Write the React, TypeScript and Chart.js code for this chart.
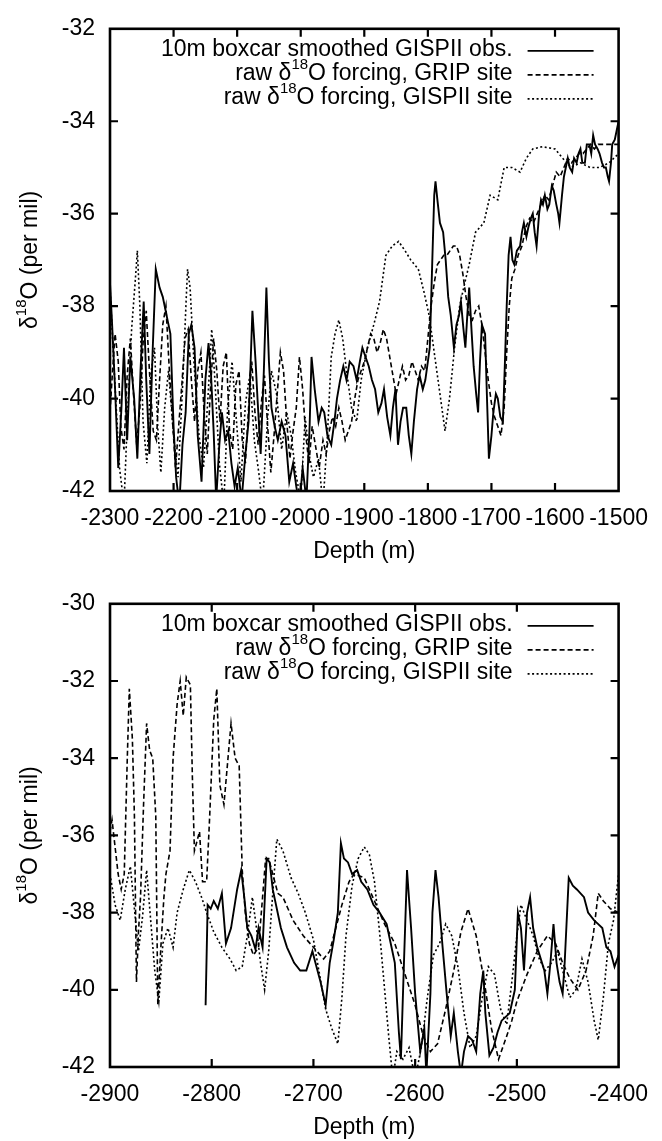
import React, { useEffect, useRef } from 'react';
import { Chart, registerables } from 'chart.js';
Chart.register(...registerables);

const FONT = "'Liberation Sans', Arial, Helvetica, sans-serif";

// ---------- Top panel (depth -2300 .. -1500) ----------
const topXTicks = [-2300, -2200, -2100, -2000, -1900, -1800, -1700, -1600, -1500];
const topYTicks = [-42, -40, -38, -36, -34, -32];

const topObs: [number, number][] = [
  [-2300,-37.5],[-2297,-38.3],[-2292,-39.8],[-2287,-41.5],[-2282,-40.2],[-2278,-38.9],[-2273,-40.9],[-2268,-39.1],[-2262,-40.0],[-2257,-41.3],
  [-2252,-39.4],[-2247,-37.9],[-2243,-39.6],[-2238,-41.2],[-2233,-39.0],[-2228,-37.2],[-2222,-37.6],[-2217,-37.8],[-2211,-38.2],[-2205,-38.6],
  [-2200,-40.6],[-2196,-41.7],[-2191,-42.3],[-2186,-41.0],[-2181,-40.3],[-2176,-38.6],[-2172,-38.4],[-2167,-38.9],[-2162,-40.8],[-2156,-41.8],
  [-2150,-39.6],[-2145,-38.8],[-2141,-39.5],[-2137,-40.7],[-2133,-42.2],[-2128,-41.0],[-2124,-40.3],[-2119,-40.9],[-2114,-40.7],[-2109,-41.4],
  [-2104,-41.9],[-2099,-41.5],[-2093,-42.2],[-2087,-41.2],[-2082,-40.5],[-2076,-38.1],[-2071,-39.2],[-2068,-40.0],[-2063,-41.2],[-2058,-39.4],
  [-2054,-37.6],[-2050,-39.2],[-2046,-40.2],[-2041,-40.6],[-2036,-40.9],[-2030,-40.5],[-2024,-40.8],[-2018,-41.8],[-2012,-41.4],[-2007,-41.9],
  [-2002,-42.3],[-1997,-41.5],[-1991,-42.2],[-1986,-40.6],[-1983,-39.1],[-1978,-39.8],[-1972,-40.5],[-1967,-40.2],[-1963,-40.3],[-1958,-40.8],
  [-1952,-41.0],[-1947,-40.5],[-1943,-40.0],[-1938,-39.6],[-1933,-39.3],[-1928,-39.6],[-1923,-39.2],[-1917,-39.3],[-1912,-39.6],[-1907,-39.2],
  [-1903,-38.9],[-1898,-39.1],[-1893,-39.3],[-1888,-39.6],[-1883,-39.8],[-1878,-40.3],[-1873,-40.1],[-1869,-39.8],[-1864,-40.4],[-1859,-40.8],
  [-1855,-40.2],[-1851,-39.8],[-1847,-41.0],[-1843,-40.5],[-1839,-40.2],[-1834,-40.2],[-1830,-40.8],[-1826,-41.2],[-1822,-40.5],[-1817,-39.8],
  [-1813,-39.5],[-1808,-39.8],[-1804,-39.6],[-1800,-39.2],[-1797,-38.9],[-1793,-37.0],[-1790,-35.6],[-1788,-35.3],[-1785,-35.7],[-1781,-36.2],
  [-1776,-36.4],[-1772,-37.0],[-1768,-37.8],[-1764,-38.2],[-1759,-38.9],[-1755,-38.4],[-1751,-38.2],[-1748,-37.9],[-1744,-38.5],[-1741,-38.9],
  [-1738,-38.2],[-1735,-37.6],[-1731,-38.6],[-1728,-39.3],[-1724,-39.9],[-1721,-40.3],[-1718,-39.2],[-1715,-38.4],[-1710,-38.6],[-1707,-40.0],
  [-1704,-41.3],[-1700,-40.8],[-1697,-40.3],[-1693,-39.9],[-1690,-40.0],[-1686,-40.4],[-1682,-40.5],[-1679,-39.3],[-1676,-38.0],[-1673,-36.9],
  [-1670,-36.5],[-1667,-37.0],[-1664,-37.1],[-1660,-36.8],[-1655,-36.7],[-1652,-36.4],[-1649,-36.2],[-1645,-36.5],[-1642,-36.3],[-1638,-36.1],
  [-1635,-36.0],[-1632,-36.4],[-1629,-36.7],[-1625,-36.0],[-1622,-35.7],[-1619,-35.8],[-1616,-35.6],[-1612,-35.9],[-1609,-35.8],[-1605,-35.4],
  [-1602,-35.5],[-1598,-35.8],[-1595,-36.0],[-1593,-36.2],[-1589,-35.6],[-1586,-35.2],[-1583,-35.0],[-1580,-34.8],[-1577,-35.0],[-1573,-35.1],
  [-1570,-34.8],[-1566,-34.9],[-1563,-34.7],[-1560,-34.6],[-1557,-34.9],[-1553,-34.9],[-1550,-34.5],[-1546,-34.5],[-1543,-34.7],[-1540,-34.3],
  [-1537,-34.5],[-1533,-34.6],[-1530,-34.7],[-1526,-34.9],[-1523,-35.0],[-1520,-35.0],[-1517,-35.2],[-1515,-35.3],[-1512,-34.9],[-1510,-34.5],
  [-1506,-34.4],[-1503,-34.2],[-1500,-34.0],
];

const topGrip: [number, number][] = [
  [-2300,-40.3],[-2296,-39.4],[-2292,-38.6],[-2287,-39.2],[-2283,-40.6],[-2278,-41.1],[-2273,-39.5],[-2268,-38.7],[-2263,-39.9],[-2258,-41.0],
  [-2253,-40.2],[-2248,-38.8],[-2243,-38.1],[-2238,-39.4],[-2232,-40.7],[-2227,-40.9],[-2222,-39.6],[-2217,-38.4],[-2212,-38.0],[-2207,-39.3],
  [-2202,-40.4],[-2197,-41.5],[-2192,-40.6],[-2187,-39.7],[-2182,-38.7],[-2177,-38.5],[-2172,-39.6],[-2167,-40.5],[-2162,-39.4],[-2157,-39.0],
  [-2152,-40.3],[-2147,-41.2],[-2142,-39.8],[-2137,-38.7],[-2132,-39.4],[-2127,-40.5],[-2122,-39.3],[-2117,-39.0],[-2112,-40.7],[-2107,-41.1],
  [-2102,-39.7],[-2097,-39.4],[-2092,-40.9],[-2087,-41.4],[-2082,-40.2],[-2077,-39.2],[-2072,-40.3],[-2067,-41.0],[-2062,-40.1],[-2057,-39.5],
  [-2052,-40.6],[-2047,-41.6],[-2042,-40.8],[-2037,-39.9],[-2032,-39.0],[-2027,-39.4],[-2022,-40.5],[-2017,-41.3],[-2012,-40.7],[-2007,-40.2],
  [-2002,-39.1],[-1997,-39.8],[-1992,-40.8],[-1987,-41.4],[-1982,-40.6],[-1977,-41.0],[-1971,-41.5],[-1965,-40.9],[-1960,-41.2],[-1955,-40.7],
  [-1950,-40.4],[-1945,-40.6],[-1940,-40.2],[-1935,-40.5],[-1930,-40.9],[-1925,-40.7],[-1920,-40.5],[-1915,-40.0],[-1910,-39.6],[-1905,-39.4],
  [-1900,-39.2],[-1895,-38.9],[-1890,-38.6],[-1885,-38.7],[-1880,-39.0],[-1875,-38.8],[-1870,-38.5],[-1865,-38.7],[-1860,-39.1],[-1855,-39.5],
  [-1850,-39.9],[-1845,-39.6],[-1840,-39.3],[-1835,-39.6],[-1830,-39.5],[-1825,-39.2],[-1820,-39.4],[-1815,-39.6],[-1810,-39.3],[-1805,-39.4],
  [-1800,-38.7],[-1795,-38.0],[-1790,-37.5],[-1785,-37.1],[-1780,-37.0],[-1775,-36.9],[-1770,-36.9],[-1765,-36.8],[-1760,-36.7],[-1755,-36.7],
  [-1750,-36.9],[-1745,-37.3],[-1740,-37.8],[-1735,-38.2],[-1730,-38.3],[-1725,-38.1],[-1720,-38.0],[-1715,-38.4],[-1710,-39.0],[-1705,-39.6],
  [-1700,-40.1],[-1695,-40.4],[-1690,-40.6],[-1685,-40.8],[-1680,-40.2],[-1676,-39.0],[-1672,-38.0],[-1668,-37.4],[-1663,-37.2],[-1658,-36.9],
  [-1652,-36.7],[-1646,-36.3],[-1640,-36.1],[-1634,-36.2],[-1628,-36.0],[-1622,-35.8],[-1616,-35.6],[-1610,-35.7],[-1604,-35.4],[-1598,-35.1],
  [-1592,-35.2],[-1586,-35.0],[-1580,-34.8],[-1574,-34.9],[-1568,-34.8],[-1562,-34.7],[-1556,-34.7],[-1550,-34.6],[-1544,-34.5],[-1538,-34.6],
  [-1532,-34.5],[-1526,-34.5],[-1520,-34.5],[-1510,-34.5],[-1500,-34.5],
];

const topGispii: [number, number][] = [
  [-2300,-37.6],[-2293,-39.5],[-2285,-41.5],[-2278,-42.3],[-2272,-40.2],[-2266,-38.5],[-2260,-37.4],[-2257,-36.8],[-2253,-38.0],[-2248,-40.5],
  [-2242,-41.4],[-2236,-39.5],[-2230,-38.9],[-2225,-40.6],[-2220,-41.6],[-2214,-40.2],[-2208,-39.4],[-2200,-40.8],[-2193,-41.7],[-2186,-39.8],
  [-2180,-37.8],[-2178,-37.2],[-2174,-37.6],[-2168,-39.2],[-2160,-40.8],[-2153,-41.5],[-2146,-40.0],[-2140,-38.5],[-2135,-39.6],[-2128,-41.4],
  [-2121,-42.3],[-2115,-40.2],[-2108,-39.2],[-2101,-40.5],[-2094,-41.8],[-2087,-40.1],[-2080,-39.5],[-2073,-40.9],[-2066,-41.6],[-2060,-42.3],
  [-2052,-40.4],[-2046,-39.4],[-2038,-39.9],[-2030,-41.1],[-2022,-40.3],[-2015,-40.8],[-2008,-41.6],[-2000,-42.2],[-1993,-40.4],[-1987,-41.2],
  [-1980,-41.7],[-1972,-41.3],[-1965,-42.3],[-1958,-40.8],[-1952,-39.1],[-1946,-38.6],[-1940,-38.3],[-1934,-38.7],[-1928,-39.4],[-1920,-40.2],
  [-1912,-40.5],[-1905,-39.6],[-1895,-38.9],[-1885,-38.4],[-1876,-37.9],[-1866,-36.9],[-1856,-36.7],[-1846,-36.6],[-1836,-36.8],[-1827,-37.0],
  [-1815,-37.2],[-1806,-37.7],[-1798,-38.2],[-1790,-39.0],[-1784,-39.6],[-1778,-40.2],[-1773,-40.7],[-1766,-40.0],[-1758,-38.9],[-1750,-38.0],
  [-1742,-37.5],[-1735,-37.1],[-1725,-36.4],[-1712,-36.2],[-1702,-35.6],[-1690,-35.7],[-1680,-35.0],[-1668,-35.0],[-1655,-35.1],[-1645,-34.8],
  [-1635,-34.6],[-1620,-34.55],[-1600,-34.6],[-1588,-34.8],[-1575,-35.0],[-1560,-34.9],[-1545,-35.0],[-1530,-35.0],[-1515,-34.9],[-1500,-34.7],
];

// ---------- Bottom panel (depth -2900 .. -2400) ----------
const botXTicks = [-2900, -2800, -2700, -2600, -2500, -2400];
const botYTicks = [-42, -40, -38, -36, -34, -32, -30];

const botObs: [number, number][] = [
  [-2806,-40.4],[-2804,-37.8],[-2801,-37.9],[-2798,-37.7],[-2794,-37.9],[-2790,-37.5],[-2786,-38.8],[-2781,-38.4],[-2775,-37.4],[-2771,-36.9],
  [-2768,-37.6],[-2765,-38.4],[-2761,-38.6],[-2757,-38.95],[-2754,-38.4],[-2750,-38.9],[-2746,-36.6],[-2743,-36.7],[-2740,-37.4],[-2736,-37.9],
  [-2732,-38.4],[-2726,-38.9],[-2719,-39.3],[-2713,-39.5],[-2707,-39.5],[-2701,-39.0],[-2697,-39.4],[-2693,-39.8],[-2688,-40.4],[-2684,-39.3],
  [-2680,-38.7],[-2676,-38.0],[-2673,-36.2],[-2670,-36.6],[-2666,-36.7],[-2662,-37.0],[-2657,-36.9],[-2653,-37.2],[-2647,-37.4],[-2641,-37.8],
  [-2635,-38.0],[-2628,-38.3],[-2624,-38.8],[-2620,-39.3],[-2616,-41.1],[-2614,-41.8],[-2611,-39.3],[-2608,-36.9],[-2604,-38.4],[-2600,-40.1],
  [-2595,-41.6],[-2591,-41.0],[-2589,-42.2],[-2585,-40.1],[-2583,-38.0],[-2580,-36.9],[-2577,-37.6],[-2573,-38.9],[-2569,-40.1],[-2565,-41.2],
  [-2562,-40.6],[-2558,-41.6],[-2555,-42.2],[-2552,-41.6],[-2548,-41.2],[-2544,-41.3],[-2540,-41.6],[-2536,-40.1],[-2533,-39.5],[-2531,-40.6],
  [-2527,-41.7],[-2523,-41.5],[-2519,-41.1],[-2515,-40.8],[-2511,-40.7],[-2507,-40.6],[-2502,-40.0],[-2499,-38.0],[-2496,-38.4],[-2493,-39.5],
  [-2490,-38.0],[-2487,-37.6],[-2484,-38.4],[-2480,-38.9],[-2473,-39.5],[-2470,-40.1],[-2467,-39.3],[-2464,-38.3],[-2461,-39.3],[-2458,-39.8],
  [-2455,-40.1],[-2453,-39.3],[-2449,-37.1],[-2445,-37.3],[-2441,-37.4],[-2434,-37.6],[-2430,-38.0],[-2424,-38.2],[-2420,-38.3],[-2416,-38.4],
  [-2412,-38.9],[-2408,-39.0],[-2404,-39.4],[-2400,-39.1],
];

const botGrip: [number, number][] = [
  [-2900,-35.9],[-2898,-35.6],[-2895,-36.3],[-2892,-37.0],[-2889,-37.4],[-2886,-37.0],[-2883,-34.0],[-2881,-32.2],[-2878,-33.5],[-2876,-35.5],
  [-2874,-39.8],[-2872,-38.5],[-2870,-37.6],[-2867,-35.2],[-2864,-33.1],[-2861,-33.8],[-2858,-34.0],[-2855,-35.5],[-2853,-40.4],[-2850,-38.9],
  [-2847,-37.6],[-2845,-37.0],[-2841,-36.4],[-2838,-34.0],[-2834,-32.6],[-2831,-32.0],[-2828,-32.9],[-2825,-31.9],[-2821,-32.1],[-2819,-34.5],
  [-2817,-36.4],[-2814,-36.1],[-2812,-35.9],[-2809,-37.2],[-2805,-37.2],[-2802,-35.5],[-2798,-33.0],[-2795,-32.2],[-2792,-34.7],[-2788,-35.2],
  [-2784,-34.0],[-2781,-33.1],[-2777,-34.0],[-2773,-34.2],[-2770,-36.9],[-2767,-38.0],[-2763,-38.8],[-2759,-39.1],[-2754,-38.9],[-2750,-37.6],
  [-2747,-36.6],[-2744,-36.6],[-2740,-37.0],[-2735,-37.5],[-2730,-37.6],[-2725,-37.9],[-2720,-38.2],[-2710,-38.6],[-2700,-38.9],[-2690,-39.2],
  [-2684,-39.0],[-2680,-38.6],[-2672,-37.8],[-2665,-37.2],[-2660,-37.0],[-2650,-37.1],[-2640,-37.7],[-2630,-38.3],[-2620,-38.8],[-2610,-39.6],
  [-2600,-40.4],[-2592,-41.2],[-2585,-41.6],[-2578,-41.4],[-2570,-40.5],[-2562,-39.5],[-2555,-38.5],[-2548,-37.9],[-2540,-38.6],[-2532,-39.8],
  [-2525,-41.0],[-2518,-41.8],[-2510,-41.2],[-2505,-40.8],[-2500,-40.3],[-2490,-39.6],[-2480,-39.0],[-2470,-38.6],[-2462,-38.8],[-2455,-39.3],
  [-2448,-39.7],[-2440,-40.0],[-2432,-39.5],[-2425,-38.6],[-2420,-37.5],[-2415,-37.7],[-2408,-37.9],[-2400,-38.0],
];

const botGispii: [number, number][] = [
  [-2900,-37.0],[-2895,-37.8],[-2890,-38.2],[-2885,-37.4],[-2880,-36.8],[-2876,-37.9],[-2872,-39.0],[-2868,-38.1],[-2864,-36.9],[-2860,-38.2],
  [-2856,-39.5],[-2852,-40.3],[-2848,-38.8],[-2843,-38.4],[-2838,-38.9],[-2834,-38.0],[-2828,-37.4],[-2822,-36.9],[-2816,-37.2],[-2810,-37.6],
  [-2805,-38.0],[-2798,-38.5],[-2790,-38.9],[-2782,-39.2],[-2776,-39.5],[-2770,-39.4],[-2765,-38.6],[-2760,-37.6],[-2756,-38.4],[-2752,-39.3],
  [-2748,-40.0],[-2744,-39.0],[-2740,-37.5],[-2736,-36.1],[-2730,-36.4],[-2722,-37.1],[-2715,-37.5],[-2708,-38.0],[-2700,-38.7],[-2694,-39.6],
  [-2688,-40.5],[-2682,-41.0],[-2676,-41.4],[-2672,-40.2],[-2668,-38.6],[-2662,-37.3],[-2656,-36.6],[-2650,-36.3],[-2645,-36.5],[-2640,-37.2],
  [-2635,-38.5],[-2630,-40.0],[-2626,-41.2],[-2622,-42.3],[-2618,-41.6],[-2612,-41.8],[-2606,-41.5],[-2600,-42.3],[-2594,-41.5],[-2588,-40.2],
  [-2582,-39.1],[-2576,-38.8],[-2570,-38.3],[-2564,-38.6],[-2558,-39.4],[-2552,-40.6],[-2546,-41.5],[-2540,-41.2],[-2534,-40.2],[-2528,-39.4],
  [-2522,-39.6],[-2516,-40.5],[-2510,-40.9],[-2505,-39.8],[-2500,-38.6],[-2496,-37.8],[-2490,-38.2],[-2484,-38.6],[-2478,-39.2],[-2472,-39.5],
  [-2466,-39.3],[-2460,-39.0],[-2454,-39.6],[-2448,-40.2],[-2442,-40.0],[-2436,-39.2],[-2430,-39.8],[-2424,-40.8],[-2420,-41.3],[-2415,-40.2],
  [-2410,-38.8],[-2405,-38.2],[-2400,-37.0],
];

const legendRows = [
  { parts: [{ t: '10m boxcar smoothed GISPII obs.' }], dash: [] as number[] },
  { parts: [{ t: 'raw δ' }, { t: '18', sup: true }, { t: 'O forcing, GRIP site' }], dash: [5, 3] },
  { parts: [{ t: 'raw δ' }, { t: '18', sup: true }, { t: 'O forcing, GISPII site' }], dash: [2, 2.5] },
];

const FS = 23;
const SUP = 15;

function drawParts(ctx: CanvasRenderingContext2D, parts: { t: string; sup?: boolean }[], xStart: number, y: number) {
  let x = xStart;
  for (const p of parts) {
    ctx.font = `${p.sup ? SUP : FS}px ${FONT}`;
    ctx.fillText(p.t, x, p.sup ? y - 9 : y);
    x += ctx.measureText(p.t).width;
  }
}
function partsWidth(ctx: CanvasRenderingContext2D, parts: { t: string; sup?: boolean }[]) {
  let w = 0;
  for (const p of parts) {
    ctx.font = `${p.sup ? SUP : FS}px ${FONT}`;
    w += ctx.measureText(p.t).width;
  }
  return w;
}

const decorPlugin = {
  id: 'decor',
  afterDraw(chart: any) {
    const ctx: CanvasRenderingContext2D = chart.ctx;
    const { left, right, top, bottom } = chart.chartArea;
    const xs = chart.scales.x;
    const ys = chart.scales.y;
    ctx.save();
    ctx.strokeStyle = '#000';
    ctx.lineWidth = 2.6;
    ctx.setLineDash([]);
    ctx.strokeRect(left, top, right - left, bottom - top);
    ctx.lineWidth = 2.2;
    const tl = 8;
    ctx.beginPath();
    for (const t of xs.ticks) {
      const px = xs.getPixelForValue(t.value);
      if (Math.abs(px - left) < 2 || Math.abs(px - right) < 2) continue;
      ctx.moveTo(px, bottom); ctx.lineTo(px, bottom - tl);
      ctx.moveTo(px, top); ctx.lineTo(px, top + tl);
    }
    for (const t of ys.ticks) {
      const py = ys.getPixelForValue(t.value);
      if (Math.abs(py - top) < 2 || Math.abs(py - bottom) < 2) continue;
      ctx.moveTo(left, py); ctx.lineTo(left + tl, py);
      ctx.moveTo(right, py); ctx.lineTo(right - tl, py);
    }
    ctx.stroke();

    // legend
    ctx.fillStyle = '#000';
    ctx.textBaseline = 'middle';
    ctx.textAlign = 'left';
    const textRight = right - 106;
    legendRows.forEach((row, i) => {
      const y = top + 21 + i * 24;
      const w = partsWidth(ctx, row.parts);
      drawParts(ctx, row.parts, textRight - w, y);
      ctx.lineWidth = 1.8;
      ctx.setLineDash(row.dash);
      ctx.beginPath();
      ctx.moveTo(right - 91, y + 1);
      ctx.lineTo(right - 25, y + 1);
      ctx.stroke();
    });
    ctx.setLineDash([]);

    // x title
    ctx.font = `${FS}px ${FONT}`;
    ctx.textAlign = 'center';
    ctx.fillText('Depth (m)', (left + right) / 2, bottom + 61);

    // y title (rotated)
    ctx.translate(31, (top + bottom) / 2);
    ctx.rotate(-Math.PI / 2);
    const yParts = [{ t: 'δ' }, { t: '18', sup: true }, { t: 'O (per mil)' }];
    ctx.textAlign = 'left';
    const yw = partsWidth(ctx, yParts);
    drawParts(ctx, yParts, -yw / 2, 0);
    ctx.restore();
  },
};

function mkDataset(pts: [number, number][], dash: number[], width: number) {
  return {
    data: pts.map(([x, y]) => ({ x, y })),
    borderColor: '#000',
    backgroundColor: '#000',
    borderWidth: width,
    borderDash: dash,
    pointRadius: 0,
    tension: 0,
    fill: false,
  };
}

function Panel(props: {
  height: number; top: number; xmin: number; xmax: number; ymin: number; ymax: number;
  xTicks: number[]; yTicks: number[]; series: [number, number][][]; padTop: number; xH: number;
}) {
  const ref = useRef<HTMLCanvasElement | null>(null);
  useEffect(() => {
    if (!ref.current) return;
    const dashes = [[], [5, 3], [2, 2.5]];
    const widths = [1.9, 1.6, 1.6];
    const chart = new Chart(ref.current, {
      type: 'line',
      data: {
        datasets: props.series.map((s, i) => mkDataset(s, dashes[i], widths[i])) as any,
      },
      options: {
        animation: false,
        responsive: false,
        devicePixelRatio: 1,
        layout: { padding: { left: 0, right: 40, top: props.padTop, bottom: 0 } },
        plugins: { legend: { display: false }, tooltip: { enabled: false }, title: { display: false } },
        scales: {
          x: {
            type: 'linear',
            min: props.xmin,
            max: props.xmax,
            afterBuildTicks: (scale: any) => { scale.ticks = props.xTicks.map((v) => ({ value: v })); },
            afterFit: (scale: any) => { scale.height = props.xH; },
            grid: { display: false, drawTicks: false },
            border: { display: false },
            ticks: {
              autoSkip: false, maxRotation: 0, minRotation: 0, padding: 14,
              color: '#000', font: { family: FONT, size: FS },
              callback: (v: any) => String(v),
            },
          },
          y: {
            type: 'linear',
            min: props.ymin,
            max: props.ymax,
            afterBuildTicks: (scale: any) => { scale.ticks = props.yTicks.map((v) => ({ value: v })); },
            afterFit: (scale: any) => { scale.width = 110; },
            grid: { display: false, drawTicks: false },
            border: { display: false },
            ticks: {
              padding: 15, color: '#000', font: { family: FONT, size: FS },
              callback: (v: any) => String(v),
            },
          },
        },
      } as any,
      plugins: [decorPlugin],
    });
    return () => chart.destroy();
  }, []);
  return (
    <canvas
      ref={ref}
      width={662}
      height={props.height}
      style={{ position: 'absolute', left: 0, top: props.top, width: 662, height: props.height }}
    />
  );
}

export default function App() {
  return (
    <div style={{ position: 'absolute', left: 0, top: 0, width: 662, height: 1141, background: '#fff' }}>
      <Panel height={575} top={0} xmin={-2300} xmax={-1500} ymin={-42} ymax={-32}
        xTicks={topXTicks} yTicks={topYTicks} series={[topObs, topGrip, topGispii]} padTop={18} xH={84} />
      <Panel height={566} top={575} xmin={-2900} xmax={-2400} ymin={-42} ymax={-30}
        xTicks={botXTicks} yTicks={botYTicks} series={[botObs, botGrip, botGispii]} padTop={21} xH={74} />
    </div>
  );
}
